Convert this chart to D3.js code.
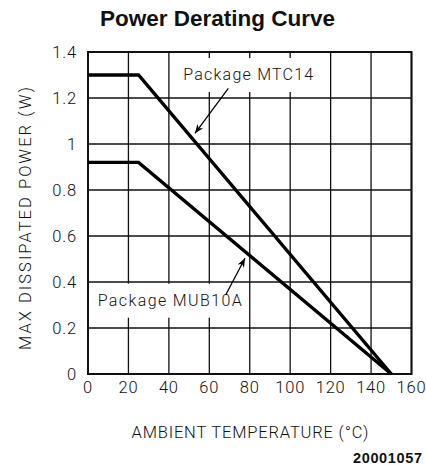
<!DOCTYPE html>
<html><head><meta charset="utf-8">
<script src="https://cdn.jsdelivr.net/npm/d3@7"></script>
<style>
html,body{margin:0;padding:0;background:#fff;}
svg{display:block;}
text{fill:#111;}
.thin{font-family:Roboto,"Liberation Sans",Arial,sans-serif;font-weight:300;}
.bold{font-family:"Liberation Sans",Arial,sans-serif;font-weight:bold;}
</style></head>
<body>
<svg id="chart" width="426" height="465"></svg>
<script>
// ---- data ----
const temps = [0, 25, 150];
const mtc14 = [1.3, 1.3, 0];
const mub10a = [0.92, 0.92, 0];
const xTicks = [0, 20, 40, 60, 80, 100, 120, 140, 160];
const yTicks = [0, 0.2, 0.4, 0.6, 0.8, 1.0, 1.2, 1.4];
const yTickLabels = ["0", "0.2", "0.4", "0.6", "0.8", "1", "1.2", "1.4"];
const seriesNames = ["Package MTC14", "Package MUB10A"];
const title = "Power Derating Curve";
const xTitle = "AMBIENT TEMPERATURE (°C)";
const yTitle = "MAX DISSIPATED POWER (W)";
const footnote = "20001057";

const svg = d3.select("#chart");
const x = d3.scaleLinear().domain([0, 160]).range([88, 411.5]);
const y = d3.scaleLinear().domain([0, 1.4]).range([374, 52]);

// grid
const g = svg.append("g");
g.selectAll(".vg").data(xTicks).join("line")
  .attr("x1", d => x(d)).attr("x2", d => x(d))
  .attr("y1", y(0)).attr("y2", y(1.4))
  .attr("stroke", "#111").attr("stroke-width", 1.3);
g.selectAll(".hg").data(yTicks).join("line")
  .attr("y1", d => y(d)).attr("y2", d => y(d))
  .attr("x1", x(0)).attr("x2", x(160))
  .attr("stroke", "#111").attr("stroke-width", 1.3);

// label boxes (white backgrounds that interrupt grid)
const labelFont = 16;
const labels = [
  {name: seriesNames[0], t: 47.1, p: 1.278, len: 130, arrow: [[69.4, 1.242], [52.9, 1.0465]]},
  {name: seriesNames[1], t: 4.8, p: 0.297, len: 144, arrow: [[68.1, 0.3435], [77.65, 0.503]]}
];
labels.forEach(l => {
  g.append("rect")
    .attr("x", x(l.t) - 6).attr("y", y(l.p) - 22)
    .attr("width", l.len + 12).attr("height", 34)
    .attr("fill", "#fff");
});

// frame
svg.append("rect")
  .attr("x", x(0)).attr("y", y(1.4))
  .attr("width", x(160) - x(0)).attr("height", y(0) - y(1.4))
  .attr("fill", "none").attr("stroke", "#111").attr("stroke-width", 2);

// data lines
const line = d3.line().x(d => x(d[0])).y(d => y(d[1]));
[mtc14, mub10a].forEach(s => {
  svg.append("path")
    .attr("d", line(temps.map((t, i) => [t, s[i]])))
    .attr("fill", "none").attr("stroke", "#000")
    .attr("stroke-width", 3.4).attr("stroke-linejoin", "miter");
});

// arrowhead marker
svg.append("defs").append("marker")
  .attr("id", "ah").attr("viewBox", "0 0 10 10")
  .attr("refX", 10).attr("refY", 5)
  .attr("markerUnits", "userSpaceOnUse")
  .attr("markerWidth", 10).attr("markerHeight", 9)
  .attr("orient", "auto")
  .append("path").attr("d", "M0,1 L10,5 L0,9 L3,5 Z").attr("fill", "#000");

labels.forEach(l => {
  svg.append("text").attr("class", "thin")
    .attr("x", x(l.t)).attr("y", y(l.p))
    .attr("font-size", labelFont)
    .attr("textLength", l.len).attr("lengthAdjust", "spacing")
    .text(l.name);
  svg.append("line")
    .attr("x1", x(l.arrow[0][0])).attr("y1", y(l.arrow[0][1]))
    .attr("x2", x(l.arrow[1][0])).attr("y2", y(l.arrow[1][1]))
    .attr("stroke", "#000").attr("stroke-width", 1.3)
    .attr("marker-end", "url(#ah)");
});

// tick labels
svg.selectAll(".xt").data(xTicks).join("text").attr("class", "thin")
  .attr("x", d => x(d)).attr("y", 393)
  .attr("text-anchor", "middle").attr("font-size", 16.5)
  .attr("letter-spacing", 0.8)
  .text(d => d);
svg.selectAll(".yt").data(yTicks).join("text").attr("class", "thin")
  .attr("x", 77).attr("y", d => y(d) + 6)
  .attr("text-anchor", "end").attr("font-size", 16.5)
  .attr("letter-spacing", 0.8)
  .text((d, i) => yTickLabels[i]);

// axis titles
svg.append("text").attr("class", "thin")
  .attr("x", 131.5).attr("y", 438)
  .attr("font-size", 16.5)
  .attr("textLength", 237).attr("lengthAdjust", "spacing")
  .text(xTitle);
svg.append("text").attr("class", "thin")
  .attr("transform", "translate(31,350) rotate(-90)")
  .attr("font-size", 16.5)
  .attr("textLength", 263).attr("lengthAdjust", "spacing")
  .text(yTitle);

// title
svg.append("text").attr("class", "bold")
  .attr("x", 100).attr("y", 26)
  .attr("font-size", 22)
  .attr("textLength", 235).attr("lengthAdjust", "spacingAndGlyphs")
  .text(title);

// footnote
svg.append("text").attr("class", "bold")
  .attr("x", 353).attr("y", 463)
  .attr("font-size", 14.5)
  .attr("textLength", 69).attr("lengthAdjust", "spacing")
  .text(footnote);
</script>
</body></html>
